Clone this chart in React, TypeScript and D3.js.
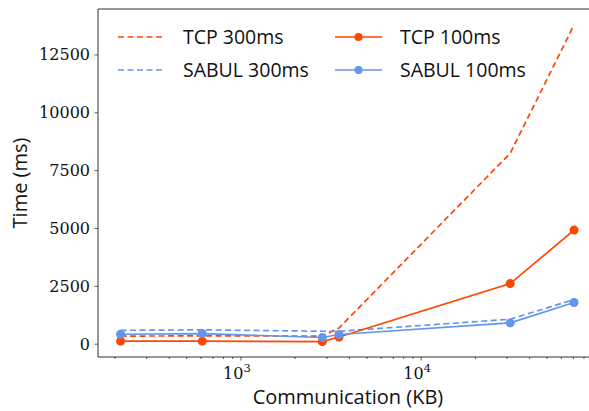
import * as d3 from "d3"
import { useEffect, useRef } from "react"

// message sizes (KB)
const sizes = [215, 610, 2830, 3500, 31200, 70500]

const tcp300 = [350, 360, 350, 700, 8250, 13800]
const tcp100 = [130, 130, 110, 310, 2620, 4930]
const sabul300 = [600, 620, 560, 560, 1080, 1930]
const sabul100 = [430, 460, 290, 420, 920, 1800]

const yTicks = [0, 2500, 5000, 7500, 10000, 12500]
const xMajor = [1000, 10000]

const ORANGE = "#ff4500"
const BLUE = "#6495ed"

const series = [
  { name: "TCP 300ms", values: tcp300, color: ORANGE, dashed: true, dots: false },
  { name: "SABUL 300ms", values: sabul300, color: BLUE, dashed: true, dots: false },
  { name: "TCP 100ms", values: tcp100, color: ORANGE, dashed: false, dots: true },
  { name: "SABUL 100ms", values: sabul100, color: BLUE, dashed: false, dots: true },
]

const SANS = "'Open Sans', 'Noto Sans', sans-serif"
const SERIF = "'DejaVu Serif', serif"

const App = () => {
  const svgRef = useRef<SVGSVGElement | null>(null)

  useEffect(() => {
    if (!svgRef.current) return
    document.body.style.margin = "0"
    const root = d3.select(svgRef.current)
    root.selectAll("*").remove()

    const left = 98
    const right = 596
    const top = 9
    const bottom = 357

    const x = d3
      .scaleLog()
      .domain([Math.pow(10, 2.207), Math.pow(10, 4.97)])
      .range([left, right])
    const y = d3.scaleLinear().domain([-553, 14483]).range([bottom, top])

    // minor ticks
    const minor: number[] = []
    for (let p = 2; p <= 4; p++) {
      for (let m = 2; m <= 9; m++) {
        const v = m * Math.pow(10, p)
        if (v > x.domain()[0] && v < x.domain()[1]) minor.push(v)
      }
    }

    const axisColor = "#333"

    root
      .selectAll(".minor")
      .data(minor)
      .enter()
      .append("line")
      .attr("x1", d => x(d))
      .attr("x2", d => x(d))
      .attr("y1", bottom)
      .attr("y2", bottom + 2)
      .attr("stroke", axisColor)
      .attr("stroke-width", 0.8)

    root
      .selectAll(".xmaj")
      .data(xMajor)
      .enter()
      .append("line")
      .attr("x1", d => x(d))
      .attr("x2", d => x(d))
      .attr("y1", bottom)
      .attr("y2", bottom + 3.5)
      .attr("stroke", axisColor)
      .attr("stroke-width", 0.8)

    const xl = root
      .selectAll(".xlab")
      .data(xMajor)
      .enter()
      .append("text")
      .attr("x", d => x(d) - 4)
      .attr("y", bottom + 22)
      .attr("text-anchor", "middle")
      .style("font-family", SERIF)
      .style("font-size", "16px")
      .attr("fill", "#111")
    xl.append("tspan").text("10")
    xl.append("tspan")
      .attr("dy", -7)
      .style("font-size", "11.5px")
      .text(d => String(Math.round(Math.log10(d))))

    root
      .selectAll(".ytick")
      .data(yTicks)
      .enter()
      .append("line")
      .attr("x1", left - 3.5)
      .attr("x2", left)
      .attr("y1", d => y(d))
      .attr("y2", d => y(d))
      .attr("stroke", axisColor)
      .attr("stroke-width", 0.8)

    root
      .selectAll(".ylab")
      .data(yTicks)
      .enter()
      .append("text")
      .attr("x", left - 8)
      .attr("y", d => y(d) + 5.5)
      .attr("text-anchor", "end")
      .style("font-family", SERIF)
      .style("font-size", "16px")
      .attr("fill", "#111")
      .text(d => String(d))

    // spines
    root
      .append("path")
      .attr("d", `M${right},${top}H${left}V${bottom}H${right}`)
      .attr("fill", "none")
      .attr("stroke", axisColor)
      .attr("stroke-width", 1)

    const line = d3
      .line<number>()
      .x((_, i) => x(sizes[i]))
      .y(d => y(d))

    series.forEach(s => {
      root
        .append("path")
        .datum(s.values)
        .attr("fill", "none")
        .attr("stroke", s.color)
        .attr("stroke-width", 1.7)
        .attr("stroke-dasharray", s.dashed ? "6,3.5" : null)
        .attr("d", line)
      if (s.dots) {
        root
          .append("g")
          .selectAll("circle")
          .data(s.values)
          .enter()
          .append("circle")
          .attr("cx", (_, i) => x(sizes[i]))
          .attr("cy", d => y(d))
          .attr("r", 4.5)
          .attr("fill", s.color)
      }
    })

    // legend
    const legendPos = [
      { lx: 118, ly: 37 },
      { lx: 118, ly: 70 },
      { lx: 335, ly: 37 },
      { lx: 335, ly: 70 },
    ]
    series.forEach((s, i) => {
      const { lx, ly } = legendPos[i]
      root
        .append("line")
        .attr("x1", lx)
        .attr("x2", lx + 47)
        .attr("y1", ly)
        .attr("y2", ly)
        .attr("stroke", s.color)
        .attr("stroke-width", 1.7)
        .attr("stroke-dasharray", s.dashed ? "6,3.5" : null)
      if (s.dots) {
        root
          .append("circle")
          .attr("cx", lx + 23.5)
          .attr("cy", ly)
          .attr("r", 4)
          .attr("fill", s.color)
      }
      root
        .append("text")
        .attr("x", lx + 65)
        .attr("y", ly + 7)
        .style("font-family", SANS)
        .style("font-size", "19.5px")
        .attr("fill", "#111")
        .text(s.name)
    })

    // axis labels
    root
      .append("text")
      .attr("x", 348)
      .attr("y", 404)
      .attr("text-anchor", "middle")
      .style("font-family", SANS)
      .style("font-size", "20px")
      .attr("fill", "#111")
      .text("Communication (KB)")

    root
      .append("text")
      .attr("transform", `translate(27,${(top + bottom) / 2}) rotate(-90)`)
      .attr("text-anchor", "middle")
      .style("font-family", SANS)
      .style("font-size", "20px")
      .attr("fill", "#111")
      .text("Time (ms)")
  }, [])

  return <svg ref={svgRef} width={589} height={411} style={{ display: "block" }} />
}

export default App
